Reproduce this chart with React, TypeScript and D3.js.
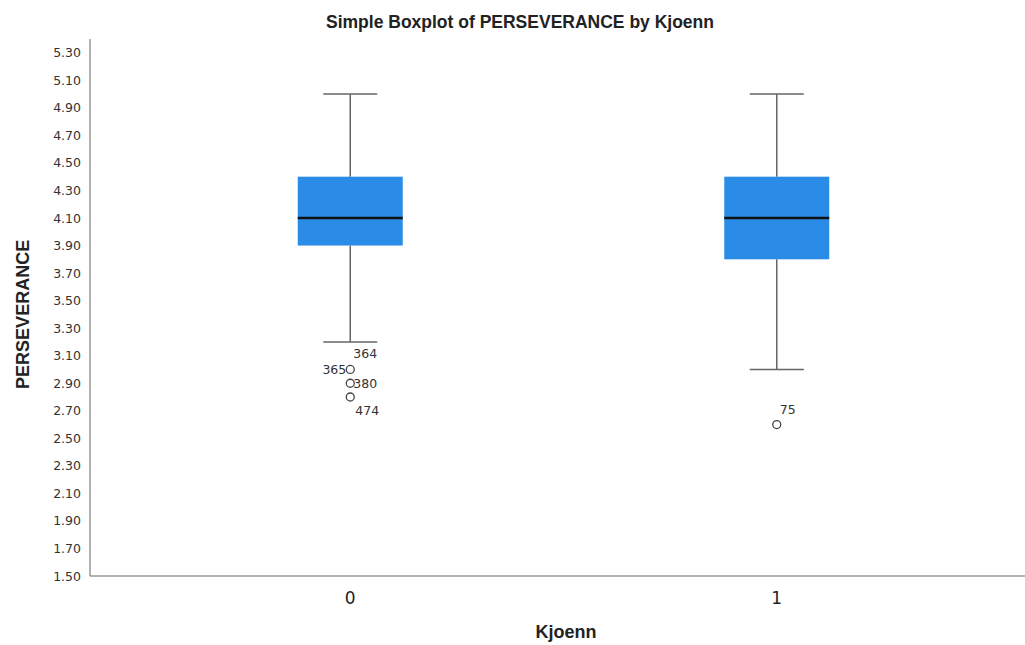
import React from "react";
import * as d3 from "d3";

const categories = ["0", "1"];
const q1 = [3.9, 3.8];
const median = [4.1, 4.1];
const q3 = [4.4, 4.4];
const whiskerLow = [3.2, 3.0];
const whiskerHigh = [5.0, 5.0];
const outlierValues = [[3.0, 2.9, 2.8], [2.6]];
const outlierLabels = [
  [[["364", "tr"], ["365", "l"]], [["380", "r"]], [["474", "br"]]],
  [[["75", "tr"]]],
];
const yTicks = [1.5, 1.7, 1.9, 2.1, 2.3, 2.5, 2.7, 2.9, 3.1, 3.3, 3.5, 3.7, 3.9, 4.1, 4.3, 4.5, 4.7, 4.9, 5.1, 5.3];

const W = 1025;
const H = 645;
const axisX = 90;
const axisBottom = 576;

export default function App() {
  const y = d3.scaleLinear().domain([1.5, 5.4]).range([axisBottom, 39]);
  const x = d3.scaleBand().domain(categories).range([137, 990]).padding(0.75).paddingOuter(0.375);
  const xc = (c: string) => (x(c) as number) + x.bandwidth() / 2;
  const boxW = 105;
  const capW = 54;
  const tickFont = "DejaVu Sans, sans-serif";
  const textColor = "#333";
  return (
    <svg width={W} height={H} style={{ position: "absolute", left: 0, top: 0, background: "#fff" }}>
      <text x={520} y={28} textAnchor="middle" fontFamily="Liberation Sans, Arial, sans-serif" fontWeight="bold" fontSize={17.5} fill="#222">
        Simple Boxplot of PERSEVERANCE by Kjoenn
      </text>
      <line x1={axisX} x2={axisX} y1={39} y2={axisBottom} stroke="#999" strokeWidth={1.5} />
      <line x1={axisX} x2={W} y1={axisBottom} y2={axisBottom} stroke="#999" strokeWidth={1.5} />
      {yTicks.map((t) => (
        <text key={t} x={81} y={y(t) + 4.5} textAnchor="end" fontFamily={tickFont} fontSize={12.5} fill={textColor}>
          {t.toFixed(2)}
        </text>
      ))}
      {categories.map((c) => (
        <text key={c} x={xc(c)} y={604} textAnchor="middle" fontFamily={tickFont} fontSize={17} fill="#222">
          {c}
        </text>
      ))}
      <text x={566} y={638} textAnchor="middle" fontFamily="Liberation Sans, Arial, sans-serif" fontWeight="bold" fontSize={18} fill="#222">
        Kjoenn
      </text>
      <text transform={`translate(29, ${y(3.4)}) rotate(-90)`} textAnchor="middle" fontFamily="Liberation Sans, Arial, sans-serif" fontWeight="bold" fontSize={18} fill="#222">
        PERSEVERANCE
      </text>
      {categories.map((c, i) => {
        const cx = xc(c);
        return (
          <g key={c}>
            <line x1={cx} x2={cx} y1={y(whiskerHigh[i])} y2={y(q3[i])} stroke="#666" strokeWidth={1.5} />
            <line x1={cx} x2={cx} y1={y(q1[i])} y2={y(whiskerLow[i])} stroke="#666" strokeWidth={1.5} />
            <line x1={cx - capW / 2} x2={cx + capW / 2} y1={y(whiskerHigh[i])} y2={y(whiskerHigh[i])} stroke="#666" strokeWidth={1.5} />
            <line x1={cx - capW / 2} x2={cx + capW / 2} y1={y(whiskerLow[i])} y2={y(whiskerLow[i])} stroke="#666" strokeWidth={1.5} />
            <rect x={cx - boxW / 2} y={y(q3[i])} width={boxW} height={y(q1[i]) - y(q3[i])} fill="#2a8ce6" />
            <line x1={cx - boxW / 2} x2={cx + boxW / 2} y1={y(median[i])} y2={y(median[i])} stroke="#111" strokeWidth={2.5} />
            {outlierValues[i].map((v, j) => (
              <g key={j}>
                <circle cx={cx} cy={y(v)} r={4} fill="#fff" stroke="#444" strokeWidth={1.3} />
                {outlierLabels[i][j].map(([lab, side]) => {
                  let dx = 0, dy = 0, anchor = "start";
                  if (side === "tr") { dx = 3; dy = -11; }
                  else if (side === "l") { dx = -4; dy = 4.5; anchor = "end"; }
                  else if (side === "r") { dx = 3; dy = 4.5; }
                  else if (side === "br") { dx = 5; dy = 18; }
                  return (
                    <text key={lab} x={cx + dx} y={y(v) + dy} textAnchor={anchor} fontFamily={tickFont} fontSize={12.5} fill={textColor}>
                      {lab}
                    </text>
                  );
                })}
              </g>
            ))}
          </g>
        );
      })}
    </svg>
  );
}
